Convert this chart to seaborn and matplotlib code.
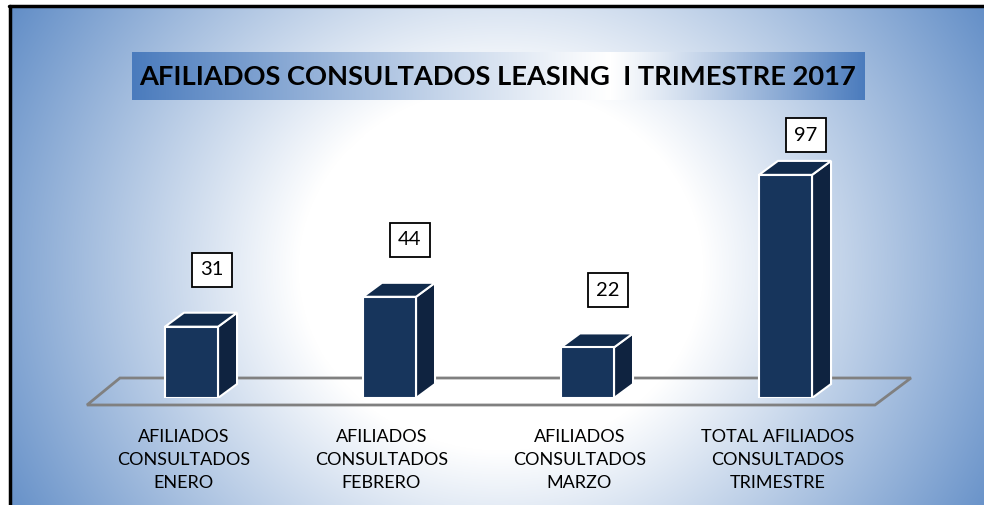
import numpy as np
import matplotlib
matplotlib.use("Agg")
import matplotlib.pyplot as plt
import matplotlib.colors as mcolors
from matplotlib.patches import Polygon, Rectangle
import seaborn as sns

# data
categories = ["AFILIADOS\nCONSULTADOS\nENERO",
              "AFILIADOS\nCONSULTADOS\nFEBRERO",
              "AFILIADOS\nCONSULTADOS\nMARZO",
              "TOTAL AFILIADOS\nCONSULTADOS\nTRIMESTRE"]
values = [31, 44, 22, 97]
title = "AFILIADOS CONSULTADOS LEASING  I TRIMESTRE 2017"

sns.set_style("white")
plt.rcParams["font.family"] = ["Lato", "DejaVu Sans"]

W, H = 984, 505
fig = plt.figure(figsize=(W / 100, H / 100), dpi=100)
fig.patch.set_facecolor("white")

# background with radial gradient, in pixel coordinates
bg = fig.add_axes([0, 0, 1, 1])
bg.set_xlim(0, W)
bg.set_ylim(H, 0)
bg.axis("off")

edge = np.array(mcolors.to_rgb("#4f80c0"))
white = np.array([1.0, 1.0, 1.0])
yy, xx = np.mgrid[0:H, 0:W]
r = np.sqrt(((xx - 495) / 620.0) ** 2 + ((yy - 265) / 560.0) ** 2)
t = np.clip((r - 0.33) / 0.67, 0, 1)[..., None]
img = white * (1 - t) + edge * t
bg.imshow(img, extent=(11, W, H, 7), aspect="auto", zorder=0)
bg.plot([10, 10], [6, H], color="black", lw=2.5, zorder=1)
bg.plot([9, W], [6, 6], color="black", lw=2.5, zorder=1)

# title box with its own gradient
tx0, tx1, ty0, ty1 = 132, 865, 52, 100
bx = np.arange(tx0, tx1)
mid = 610
tb = np.where(bx < mid, (mid - bx) / (mid - tx0), (bx - mid) / (tx1 - mid))
tb = np.clip(tb, 0, 1)[None, :, None] ** 1.1
tbimg = white * (1 - tb) + np.array(mcolors.to_rgb("#4a7bbd")) * tb
tbimg = np.repeat(tbimg, ty1 - ty0, axis=0)
bg.imshow(tbimg, extent=(tx0, tx1, ty1, ty0), aspect="auto", zorder=2)
bg.text(498, 77, title, ha="center", va="center", fontsize=19.6,
        fontweight="bold", color="black", zorder=3)

# main axes: category spacing 198 px, 2.3 px per unit
ax = fig.add_axes([92.5 / W, 1 - 398 / H, 792 / W, 299 / H])
ax.set_facecolor("none")
ax.set_xlim(-0.5, 3.5)
ax.set_ylim(0, 130)

px = 1 / 198.0   # one pixel in x data units
py = 1 / 2.3     # one pixel in y data units

front = "#17355c"
side = "#0f2340"
top = "#112b4c"
sns.barplot(x=list(range(len(values))), y=values, width=0.268, color=front,
            saturation=1, edgecolor="white", linewidth=1.5, ax=ax, zorder=3)

# floor
floor = Polygon([(-0.528, -7 * py), (3.452, -7 * py),
                 (3.452 + 36 * px, 20 * py), (-0.528 + 33 * px, 20 * py)],
                closed=True, facecolor="none", edgecolor="#808080",
                lw=2, clip_on=False, zorder=1)
ax.add_patch(floor)

dx, dy = 19 * px, 14 * py
for p in ax.containers[0].patches:
    x0, w, h = p.get_x(), p.get_width(), p.get_height()
    ax.add_patch(Polygon([(x0 + w, 0), (x0 + w + dx, dy), (x0 + w + dx, h + dy),
                          (x0 + w, h)], closed=True, facecolor=side,
                         edgecolor="white", lw=1.5, zorder=2.5))
    ax.add_patch(Polygon([(x0, h), (x0 + dx, h + dy), (x0 + w + dx, h + dy),
                          (x0 + w, h)], closed=True, facecolor=top,
                         edgecolor="white", lw=1.5, zorder=2.5))

# value boxes
bw, bh = 40 * px, 34 * py
for i, v in enumerate(values):
    cx = i + 20 * px
    cy = min(v + 57 * py, 114.3)
    ax.add_patch(Rectangle((cx - bw / 2, cy - bh / 2), bw, bh, facecolor="white",
                           edgecolor="black", lw=1.3, zorder=4, clip_on=False))
    ax.text(cx, cy, str(v), ha="center", va="center", fontsize=14.5,
            color="black", zorder=5)

# category labels
for i, lab in enumerate(categories):
    ax.text(i - 8 * px, -62 * py, lab, ha="center", va="center", fontsize=13,
            linespacing=1.55, color="black")

ax.set_xticks([])
ax.set_yticks([])
ax.set_xlabel("")
ax.set_ylabel("")
sns.despine(ax=ax, left=True, bottom=True)

fig.savefig("out.png", dpi=100)
